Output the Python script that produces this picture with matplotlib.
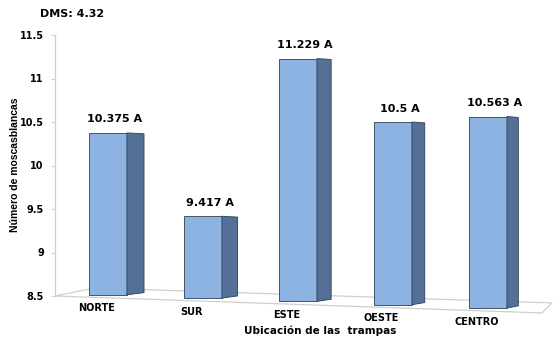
import numpy as np
import matplotlib
matplotlib.use("Agg")
from matplotlib import pyplot as plt
from matplotlib.patches import Polygon

plt.rcParams['font.family'] = ['DejaVu Sans']
plt.rcParams['font.weight'] = 'bold'

# mean whitefly counts per trap location
locations = ['NORTE', 'SUR', 'ESTE', 'OESTE', 'CENTRO']
means = [10.375, 9.417, 11.229, 10.5, 10.563]
groups = ['A', 'A', 'A', 'A', 'A']
yticks = [8.5, 9, 9.5, 10, 10.5, 11, 11.5]
dms = 4.32

front_col = '#8db3e2'
side_col = '#557096'
edge_col = '#2e3f55'
floor_col = '#cfcfcf'

W, H = 555, 355
fig = plt.figure(figsize=(W / 100, H / 100), dpi=100)
ax = fig.add_axes([55 / W, (H - 296) / H, 500 / W, 261 / H])

xmin, xmax = -0.557, 4.706
base = 8.5
ax.set_xlim(xmin, xmax)
ax.set_ylim(base, 11.5)

# floor drawn in slight perspective
slope = 0.038
def floor_front(x):
    return base - slope * (x - xmin)

fr_x = xmin + 487 / 95
floor = [(xmin, base), (fr_x, floor_front(fr_x)),
         (fr_x + 0.105, floor_front(fr_x) + 0.115), (xmin + 0.42, base + 0.092)]
ax.add_patch(Polygon(floor, closed=True, facecolor='white', edgecolor=floor_col,
                     lw=0.9, clip_on=False, zorder=1))

x = np.arange(len(locations))
width = 0.4
bottoms = [floor_front(xi) + 0.035 for xi in x]
ax.bar(x, np.array(means) - np.array(bottoms), width=width, bottom=bottoms,
       color=front_col, edgecolor=edge_col, linewidth=0.6, clip_on=False, zorder=3)

# side faces of the boxes
for i, (xi, v, b) in enumerate(zip(x, means, bottoms)):
    d = 0.18 - 0.015 * i
    xr = xi + width / 2
    side = [(xr, v), (xr + d, v - 0.01), (xr + d, b + 0.025), (xr, b)]
    ax.add_patch(Polygon(side, closed=True, facecolor=side_col, edgecolor=edge_col,
                         lw=0.6, clip_on=False, zorder=3))
    ax.annotate(f'{v} {groups[i]}', (xi + 0.07, v), xytext=(0, 7.5),
                textcoords='offset points', ha='center', va='baseline',
                fontsize=8, fontweight='bold', annotation_clip=False)
    ax.text(xi - 0.12, floor_front(xi - 0.12) - 0.125, locations[i],
            ha='center', va='center', fontsize=7, fontweight='bold', clip_on=False)

for s in ['top', 'right', 'bottom']:
    ax.spines[s].set_visible(False)
ax.spines['left'].set_color(floor_col)
ax.spines['left'].set_linewidth(0.9)
ax.set_xticks([])
ax.set_yticks(yticks)
ax.set_yticklabels([f'{t:g}' for t in yticks], fontsize=7, fontweight='bold')
ax.tick_params(axis='y', length=3, color=floor_col, pad=5)
ax.patch.set_alpha(0)

fig.text(15 / W, 1 - 165 / H, 'Número de moscasblancas', rotation=90,
         ha='center', va='center', fontsize=7.5, fontweight='bold',
         family='Liberation Sans')
fig.text(320 / W, 1 - 331 / H, 'Ubicación de las  trampas',
         ha='center', va='center', fontsize=7.5, fontweight='bold')
fig.text(40 / W, 1 - 14 / H, f'DMS: {dms}',
         ha='left', va='center', fontsize=8, fontweight='bold')

fig.savefig('out.png', dpi=100)
